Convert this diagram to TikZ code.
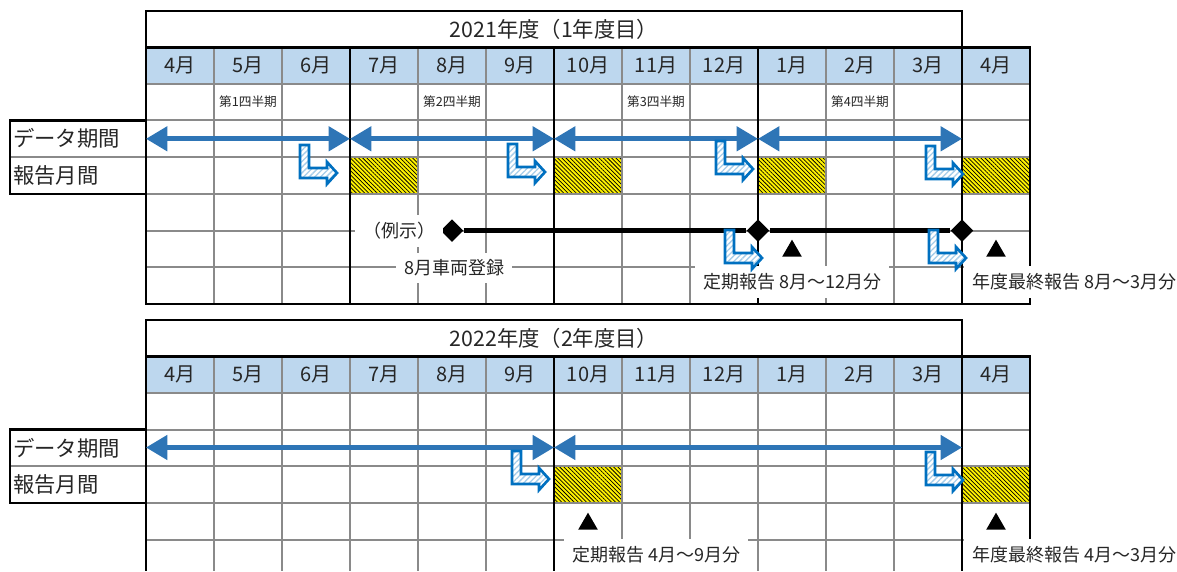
\documentclass[tikz,border=0pt]{standalone}
\usepackage{fontspec}
\setmainfont{Noto Sans CJK JP}
\usetikzlibrary{arrows.meta,positioning,calc,shapes.geometric,patterns.meta}

\definecolor{monthfill}{HTML}{BDD7EE}
\definecolor{spanblue}{HTML}{2E75B6}
\definecolor{bentblue}{HTML}{0070C0}
\definecolor{gridgray}{HTML}{8A8A8A}
\definecolor{txt}{HTML}{262626}

\tikzset{
  gridline/.style={gridgray, line width=1.5pt},
  boldline/.style={black, line width=2.2pt},
  month/.style={font=\fontsize{15}{15}\selectfont, text=txt},
  yeartitle/.style={font=\fontsize{16}{16}\selectfont, text=txt},
  rowlabel/.style={anchor=west, font=\fontsize{16}{16}\selectfont, text=txt, inner sep=0pt},
  qlabel/.style={font=\fontsize{9.5}{9.5}\selectfont, text=txt},
  note/.style={fill=white, font=\fontsize{13.5}{13.5}\selectfont, text=txt, inner xsep=6pt, minimum height=24pt},
  datespan/.style={{Triangle[length=16pt,width=18pt]}-{Triangle[length=16pt,width=18pt]}, spanblue, line width=3.5pt},
  hatch/.style={pattern={Lines[angle=-45,distance=2.2pt,line width=0.55pt]}, pattern color=black},
  dmark/.style={diamond, fill=black, inner sep=0pt, minimum size=17pt},
  tri/.style={regular polygon, regular polygon sides=3, fill=black, inner sep=0pt, minimum size=17pt},
  pics/bent/.style={code={
    \path[draw=bentblue, line width=2pt, preaction={fill=white},
      pattern={Lines[angle=45,distance=3pt,line width=1pt]}, pattern color=bentblue!35]
      (0,0) -- (9,0) -- (9,23) -- (27,23) -- (27,17) -- (37,28) -- (27,39) -- (27,33) -- (0,33) -- cycle;
  }}
}

\begin{document}
\begin{tikzpicture}[x=0.75pt, y=-0.75pt]
\useasboundingbox (0,0) rectangle (1177,571);

% ---- 2021 ----
\fill[monthfill] (146,47.6) rectangle (1030,83.6);
\foreach \c in {3,6,9,12} {
  \fill[yellow] ({146+68*\c},157.4) rectangle ++(68,36.6);
  \fill[hatch] ({146+68*\c},157.4) rectangle ++(68,36.6);
}
\foreach \y in {83.6,120.2,157.4,194,230.6,267.2}
  \draw[gridline] (146,\y) -- (1030,\y);
\foreach \c in {1,2,4,5,7,8,10,11}
  \draw[gridline] ({146+68*\c},47.6) -- ({146+68*\c},304);
\draw[gridline] (10,157.4) -- (146,157.4);
\draw[boldline] (146,11) rectangle (962,47.6);
\draw[boldline] (962,47.6) -- (1030,47.6) -- (1030,304) -- (146,304) -- (146,47.6);
\foreach \c in {3,6,9,12}
  \draw[boldline] ({146+68*\c},47.6) -- ({146+68*\c},304);
\draw[boldline] (10,120.2) rectangle (146,194);

\node[yeartitle] (year1) at (554,29.3) {2021年度（1年度目）};
\foreach \m [count=\i from 0] in {4,5,6,7,8,9,10,11,12,1,2,3,4}
  \node[month] (ma\i) at ({180+68*\i},65.6) {{\m}月};
\foreach \q [count=\i from 0] in {1,2,3,4}
  \node[qlabel] (qa\q) at ({248+204*\i},102) {第{\q}四半期};
\node[rowlabel] (dataa) at (13,138.8) {データ期間};
\node[rowlabel] (repa) at (13,175.7) {報告月間};

\foreach \c in {0,3,6,9,12}
  \coordinate (da\c) at ({146+68*\c},138.8);
\foreach \a/\b in {0/3,3/6,6/9,9/12}
  \draw[datespan] (da\a) -- (da\b);

\pic at (300,145) {bent};
\pic at (508,144) {bent};
\pic at (716,141) {bent};
\pic at (926,146) {bent};

% example
\node[dmark] (reg) at (452,230.6) {};
\node[dmark] (dec) at (758,230.6) {};
\node[dmark] (mar) at (962,230.6) {};
\draw[line width=3.8pt] (reg) -- (dec) -- (mar);
\node[note] (ex) at (399,231) {（例示）};
\node[note, minimum height=22pt] (car) at (454,268) {8月車両登録};
\node[note] (repmid) at (792,282) {定期報告 8月～12月分};
\node[note, anchor=west] (repend) at (964,282) {年度最終報告 8月～3月分};
\pic at (725,230) {bent};
\pic at (929,230) {bent};
\node[tri] (ta1) at (792,251) {};
\node[tri] (ta2) at (996,251) {};

% ---- 2022 ----
\fill[monthfill] (146,356.6) rectangle (1030,393.2);
\foreach \c in {6,12} {
  \fill[yellow] ({146+68*\c},466.4) rectangle ++(68,36.6);
  \fill[hatch] ({146+68*\c},466.4) rectangle ++(68,36.6);
}
\foreach \y in {393.2,429.8,466.4,503,539.6}
  \draw[gridline] (146,\y) -- (1030,\y);
\foreach \c in {1,2,3,4,5,7,8,9,10,11}
  \draw[gridline] ({146+68*\c},356.6) -- ({146+68*\c},571);
\draw[gridline] (10,466.4) -- (146,466.4);
\draw[boldline] (146,320) rectangle (962,356.6);
\draw[boldline] (962,356.6) -- (1030,356.6) -- (1030,571);
\draw[boldline] (146,356.6) -- (146,571);
\foreach \c in {6,12}
  \draw[boldline] ({146+68*\c},356.6) -- ({146+68*\c},571);
\draw[boldline] (10,429.8) rectangle (146,503);

\node[yeartitle] (year2) at (554,338.3) {2022年度（2年度目）};
\foreach \m [count=\i from 0] in {4,5,6,7,8,9,10,11,12,1,2,3,4}
  \node[month] (mb\i) at ({180+68*\i},374.9) {{\m}月};
\node[rowlabel] (datab) at (13,448.1) {データ期間};
\node[rowlabel] (repb) at (13,484.7) {報告月間};

\foreach \c in {0,6,12}
  \coordinate (db\c) at ({146+68*\c},447.5);
\foreach \a/\b in {0/6,6/12}
  \draw[datespan] (db\a) -- (db\b);

\pic at (512,451) {bent};
\pic at (926,452) {bent};
\node[tri] (tb1) at (588,524) {};
\node[tri] (tb2) at (996,524) {};
\node[note] (halfrep) at (656,555) {定期報告 4月～9月分};
\node[note, anchor=west] (yearrep) at (964,555) {年度最終報告 4月～3月分};
\end{tikzpicture}
\end{document}
